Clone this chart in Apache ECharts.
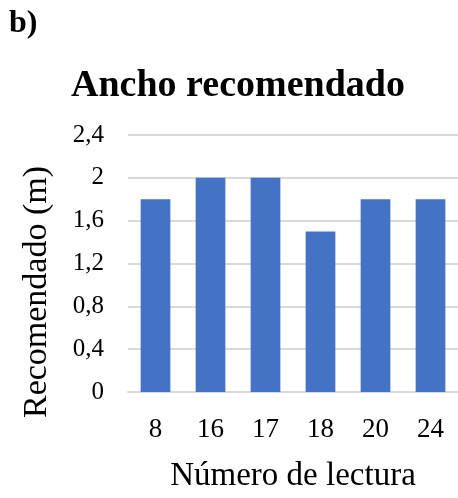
<!DOCTYPE html>
<html>
<head>
<meta charset="utf-8">
<script src="https://cdn.jsdelivr.net/npm/echarts@6/dist/echarts.min.js"></script>
<style>
  html, body { margin: 0; padding: 0; background: #ffffff; }
  #chart { width: 458px; height: 498px; }
</style>
</head>
<body>
<div id="chart"></div>
<script>
// Reading numbers and the recommended width (m) for each one
const categories = ['8', '16', '17', '18', '20', '24'];
const anchoRecomendado = [1.8, 2, 2, 1.5, 1.8, 1.8];
const yTicks = [0, 0.4, 0.8, 1.2, 1.6, 2, 2.4];

const serif = '"Liberation Serif", "Times New Roman", serif';
const gridColor = '#d9d9d9';

const chart = echarts.init(document.getElementById('chart'), null, { renderer: 'canvas' });

chart.setOption({
  animation: false,
  backgroundColor: '#ffffff',
  textStyle: { fontFamily: serif, color: '#000' },
  title: {
    text: 'Ancho recomendado',
    left: 233,
    textAlign: 'center',
    top: 62,
    textStyle: { fontFamily: serif, fontWeight: 'bold', fontSize: 38, color: '#000' }
  },
  graphic: [
    {
      type: 'text',
      left: 9,
      top: 8,
      style: { text: 'b)', font: 'bold 32px ' + serif, fill: '#000' }
    },
    {
      // vertical axis title, reading bottom to top
      type: 'text',
      x: 37,
      y: 292,
      rotation: Math.PI / 2,
      style: {
        text: 'Recomendado (m)',
        font: '34px ' + serif,
        fill: '#000',
        align: 'center',
        verticalAlign: 'middle'
      }
    }
  ],
  grid: { left: 128, right: -3, top: 135, bottom: 93, containLabel: false },
  xAxis: {
    type: 'category',
    data: categories,
    name: 'Número de lectura',
    nameLocation: 'middle',
    nameGap: 68,
    nameTextStyle: { fontFamily: serif, fontSize: 33, color: '#000' },
    axisLine: { show: true, lineStyle: { color: gridColor, width: 2 } },
    axisTick: { show: false },
    axisLabel: { fontFamily: serif, fontSize: 27, color: '#000', margin: 24 }
  },
  yAxis: {
    type: 'value',
    min: yTicks[0],
    max: yTicks[yTicks.length - 1],
    interval: yTicks[1] - yTicks[0],
    axisLine: { show: false },
    axisTick: { show: false },
    splitLine: { show: true, lineStyle: { color: gridColor, width: 2 } },
    axisLabel: {
      fontFamily: serif,
      fontSize: 25,
      color: '#000',
      margin: 24,
      formatter: v => String(Math.round(v * 10) / 10).replace('.', ',')
    }
  },
  series: [
    {
      type: 'bar',
      data: anchoRecomendado,
      barWidth: '54%',
      itemStyle: { color: '#4472c4' }
    }
  ]
});
</script>
</body>
</html>
